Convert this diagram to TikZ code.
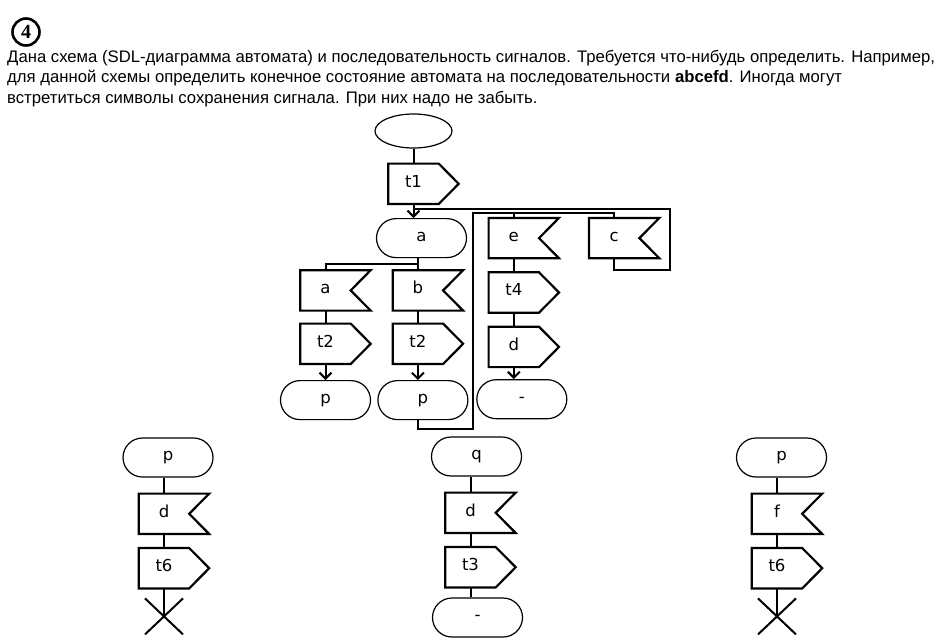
\documentclass[tikz,border=0pt]{standalone}
\usepackage{fontspec}
\newfontfamily\tekstfont{Liberation Sans}
\newfontfamily\shemafont{DejaVu Sans}
\newfontfamily\nomerfont{Liberation Serif}
\usepackage{tikz}
\usetikzlibrary{positioning,shapes.geometric,arrows.meta}
\tikzset{
    nomer/.style={circle,draw,line width=2.6pt,minimum size=27pt,inner sep=0pt,font=\nomerfont\bfseries\fontsize{20}{20}\selectfont},
    tekst/.style={anchor=base west,inner sep=0pt,font=\tekstfont\fontsize{16.7}{20}\selectfont},
    nachalo/.style={ellipse,draw,line width=1.2pt,minimum width=77pt,minimum height=34pt,inner sep=0pt},
    sost/.style={rectangle,draw,rounded corners=19.5pt,line width=1.2pt,minimum width=90pt,minimum height=39pt,inner sep=0pt,text height=0.65em,text depth=0pt,font=\shemafont\fontsize{16.5}{18}\selectfont},
    sigbox/.style={rectangle,minimum width=50pt,minimum height=40pt,inner sep=0pt,text height=0.65em,text depth=0pt,font=\shemafont\fontsize{16.5}{18}\selectfont},
    vyvod/.style={sigbox},
    priem/.style={sigbox},
    kontur/.style={draw,line width=2.2pt,line join=miter},
    liniya/.style={draw,line width=2pt},
    strelka/.style={liniya,-{Straight Barb[length=6pt,width=12pt]}},
}
\begin{document}
\begin{tikzpicture}[x=1pt,y=-1pt]
\useasboundingbox (0,0) rectangle (947,641);

\node[nomer] (nomer) at (26,32) {4};
\node[tekst] (str1) at (7,62) {Дана схема (SDL-диаграмма автомата) и последовательность сигналов. Требуется что-нибудь определить. Например,};
\node[tekst] (str2) at ([yshift=-20.5pt]str1.base west) {для данной схемы определить конечное состояние автомата на последовательности \textbf{abcefd}. Иногда могут};
\node[tekst] (str3) at ([yshift=-20.5pt]str2.base west) {встретиться символы сохранения сигнала. При них надо не забыть.};

\node[nachalo] (start) at (413.5,131) {};
\node[vyvod,below=15pt of start]          (t1)   {t1};
\node[sost,below=14pt of t1,xshift=8pt]   (sa)   {a};
\node[priem,below=12pt of sa,xshift=-96pt] (ina) {a};
\node[priem,right=42pt of ina]            (inb)  {b};
\node[vyvod,below=13pt of ina]            (t2a)  {t2};
\node[vyvod,below=13pt of inb]            (t2b)  {t2};
\node[sost,below=16pt of t2a]             (pa)   {p};
\node[sost,below=16pt of t2b,xshift=5pt]  (pb)   {p};
\node[priem,right=21.5pt of sa]           (ine)  {e};
\node[priem,right=50pt of ine]            (inc)  {c};
\node[vyvod,below=14pt of ine]            (t4)   {t4};
\node[vyvod,below=14pt of t4]             (outd) {d};
\node[sost,below=12pt of outd,xshift=8pt] (pusto) {-};

\draw[liniya] (start) -- (t1);
\draw[strelka] (t1.south) -- (t1.south |- sa.north);
\coordinate (uzel1) at ([yshift=-5pt]t1.south);
\draw[liniya] (uzel1) -| ([xshift=31pt,yshift=-12pt]inc.south east) -| (inc.south);
\coordinate (uzel2) at ([yshift=5pt]ine.north);
\draw[liniya] (t2b.south |- pb.south) -- ++(0,9) -| ([xshift=-16pt]ine.west |- uzel2) -| (inc.north);
\draw[liniya] (uzel2) -- (ine.north);
\coordinate (uzel3) at ([yshift=-6pt]sa.south);
\draw[liniya] (inb.north |- sa.south) -- (inb.north |- uzel3) -| (ina.north);
\draw[liniya] (inb.north |- uzel3) -- (inb.north);
\draw[liniya] (ina) -- (t2a);
\draw[liniya] (inb) -- (t2b);
\draw[strelka] (t2a) -- (pa);
\draw[strelka] (t2b.south) -- (t2b.south |- pb.north);
\draw[liniya] (ine) -- (t4);
\draw[liniya] (t4) -- (outd);
\draw[strelka] (outd.south) -- (outd.south |- pusto.north);

\node[sost] (p1) at (168,457.5) {p};
\node[priem,below=16pt of p1,xshift=-4pt] (d1) {d};
\node[vyvod,below=14pt of d1]             (t6a) {t6};
\coordinate[below=28pt of t6a] (x1);
\draw[liniya] (d1.north |- p1.south) -- (d1);
\draw[liniya] (d1) -- (t6a);
\draw[liniya] (t6a) -- (x1);

\node[sost] (q) at (476.5,456.5) {q};
\node[priem,below=16pt of q,xshift=-6pt]  (d2) {d};
\node[vyvod,below=14pt of d2]             (t3) {t3};
\node[sost,below=10pt of t3,xshift=7pt]   (pusto2) {-};
\draw[liniya] (d2.north |- q.south) -- (d2);
\draw[liniya] (d2) -- (t3);
\draw[liniya] (t3.south) -- (t3.south |- pusto2.north);

\node[sost] (p3) at (781.5,457.5) {p};
\node[priem,below=16pt of p3,xshift=-4.5pt] (inf) {f};
\node[vyvod,below=14pt of inf]              (t6b) {t6};
\coordinate[below=28pt of t6b] (x3);
\draw[liniya] (inf.north |- p3.south) -- (inf);
\draw[liniya] (inf) -- (t6b);
\draw[liniya] (t6b) -- (x3);

\foreach \x in {x1,x3} {
  \draw[liniya] ([xshift=-19pt,yshift=18pt]\x) -- ([xshift=19pt,yshift=-18pt]\x);
  \draw[liniya] ([xshift=-19pt,yshift=-18pt]\x) -- ([xshift=19pt,yshift=18pt]\x);
}
\foreach \n in {t1,t2a,t2b,t4,outd,t6a,t3,t6b}
  \draw[kontur] (\n.north west) -- (\n.north east) -- ([xshift=20pt]\n.east) -- (\n.south east) -- (\n.south west) -- cycle;
\foreach \n in {ina,inb,ine,inc,d1,d2,inf}
  \draw[kontur] (\n.north west) -- ([xshift=20pt]\n.north east) -- (\n.east) -- ([xshift=20pt]\n.south east) -- (\n.south west) -- cycle;
\end{tikzpicture}
\end{document}
